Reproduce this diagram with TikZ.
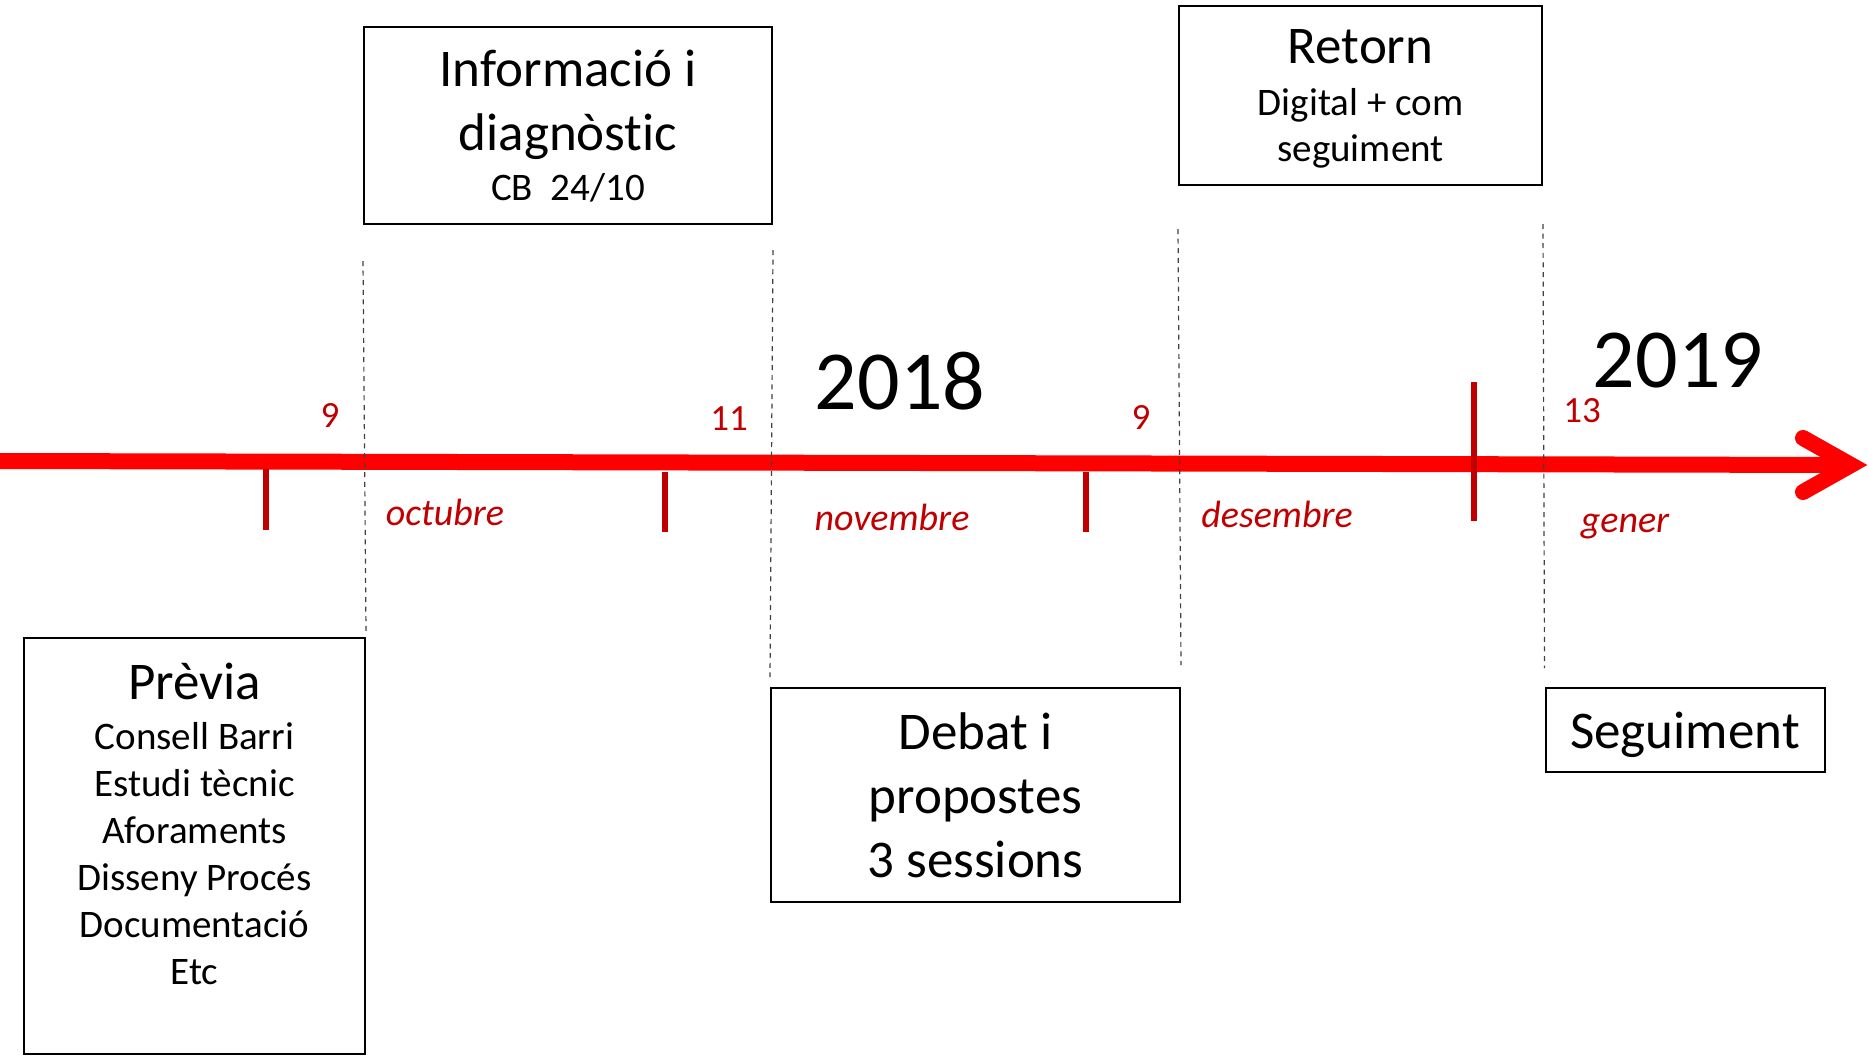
\documentclass[tikz,border=0pt]{standalone}
\usepackage{fontspec}
\setmainfont{Carlito}[Ligatures={NoCommon}]
\usetikzlibrary{positioning}

\definecolor{darkred}{HTML}{C00000}
\newcommand{\titlesize}{\fontsize{26.5}{32}\selectfont}
\newcommand{\detailsize}{\fontsize{19.5}{23.5}\selectfont}

\begin{document}
\begin{tikzpicture}[x=0.5pt, y=-0.5pt,
    panel/.style={draw, line width=1pt, align=center, inner sep=0pt},
    guide/.style={draw=black!75, line width=0.6pt, dash pattern=on 2.5pt off 2.3pt},
    notch/.style={draw=darkred, line width=2.6pt},
    daynum/.style={text=darkred, font=\fontsize{18.5}{22}\selectfont, anchor=base},
    month/.style={text=darkred, font=\fontsize{19}{23}\selectfont\itshape, anchor=base},
    yearnum/.style={font=\fontsize{42}{50}\selectfont, anchor=base}]
   \useasboundingbox (0,0) rectangle (1868,1056);

   % Phases above the line
   \node[panel, minimum width=204pt, minimum height=98.5pt, font=\titlesize, text depth=-4pt] (info) at (568,125.5)
      {Informació i\\diagnòstic\\[-7pt]{\detailsize CB\ \ 24/10}};
   \node[panel, minimum width=181.5pt, minimum height=89.5pt, font=\titlesize, text depth=-5.5pt] (retorn) at (1360.5,95.5)
      {Retorn\\[-6pt]{\detailsize Digital + com}\\[-9pt]{\detailsize seguiment}};

   % Phases below the line
   \node[panel, minimum width=170.5pt, minimum height=208pt] (previa) at (194.5,846) {};
   \node[font=\detailsize, align=center, inner sep=0pt, below=13pt of previa.north] (previatext)
      {{\titlesize Prèvia}\\[1.5pt]Consell Barri\\Estudi tècnic\\Aforaments\\Disseny Procés\\Documentació\\Etc};
   \node[panel, minimum width=204.5pt, minimum height=107pt, font=\titlesize] (debat) at (975.5,795)
      {Debat i\\propostes\\3 sessions};
   \node[panel, minimum width=139.5pt, minimum height=42pt, font=\titlesize, text depth=-1.5pt] (seguiment) at (1685,730)
      {Seguiment};

   % The time line
   \coordinate (tlstart) at (0,461);
   \coordinate (tlend) at (1851,465);
   \draw[red, line width=8pt] (tlstart) -- (tlend);
   \draw[red, line width=8pt, line cap=round, line join=miter] (1803,438) -- (tlend) -- (1803,492);

   \draw[notch] (266,469) -- (266,530);
   \draw[notch] (665,472) -- (665,532);
   \draw[notch] (1086,472) -- (1086,532);
   \draw[notch] (1474,382) -- (1474,521);

   % Limits between phases
   \draw[guide] ([yshift=-18pt]info.south west) -- ([yshift=2.5pt]previa.north east);
   \draw[guide] ([yshift=-12.5pt]info.south east) -- ([yshift=5pt]debat.north west);
   \draw[guide] ([yshift=-21.5pt]retorn.south west) -- ([yshift=11pt]debat.north east);
   \draw[guide] ([yshift=-19pt]retorn.south east) -- ([yshift=9.5pt]seguiment.north west);

   % Days, months and years
   \node[daynum] (d9a) at (330,427) {9};
   \node[daynum] (d11) at (729,430) {11};
   \node[daynum] (d9b) at (1141,429) {9};
   \node[daynum] (d13) at (1582,422) {13};

   \node[month] (oct) at (445,525) {octubre};
   \node[month] (nov) at (892,530) {novembre};
   \node[month] (des) at (1277,527) {desembre};
   \node[month] (gen) at (1625,532) {gener};

   \node[yearnum] (y2018) at (900,409) {2018};
   \node[yearnum] (y2019) at (1678,387) {2019};
\end{tikzpicture}
\end{document}
